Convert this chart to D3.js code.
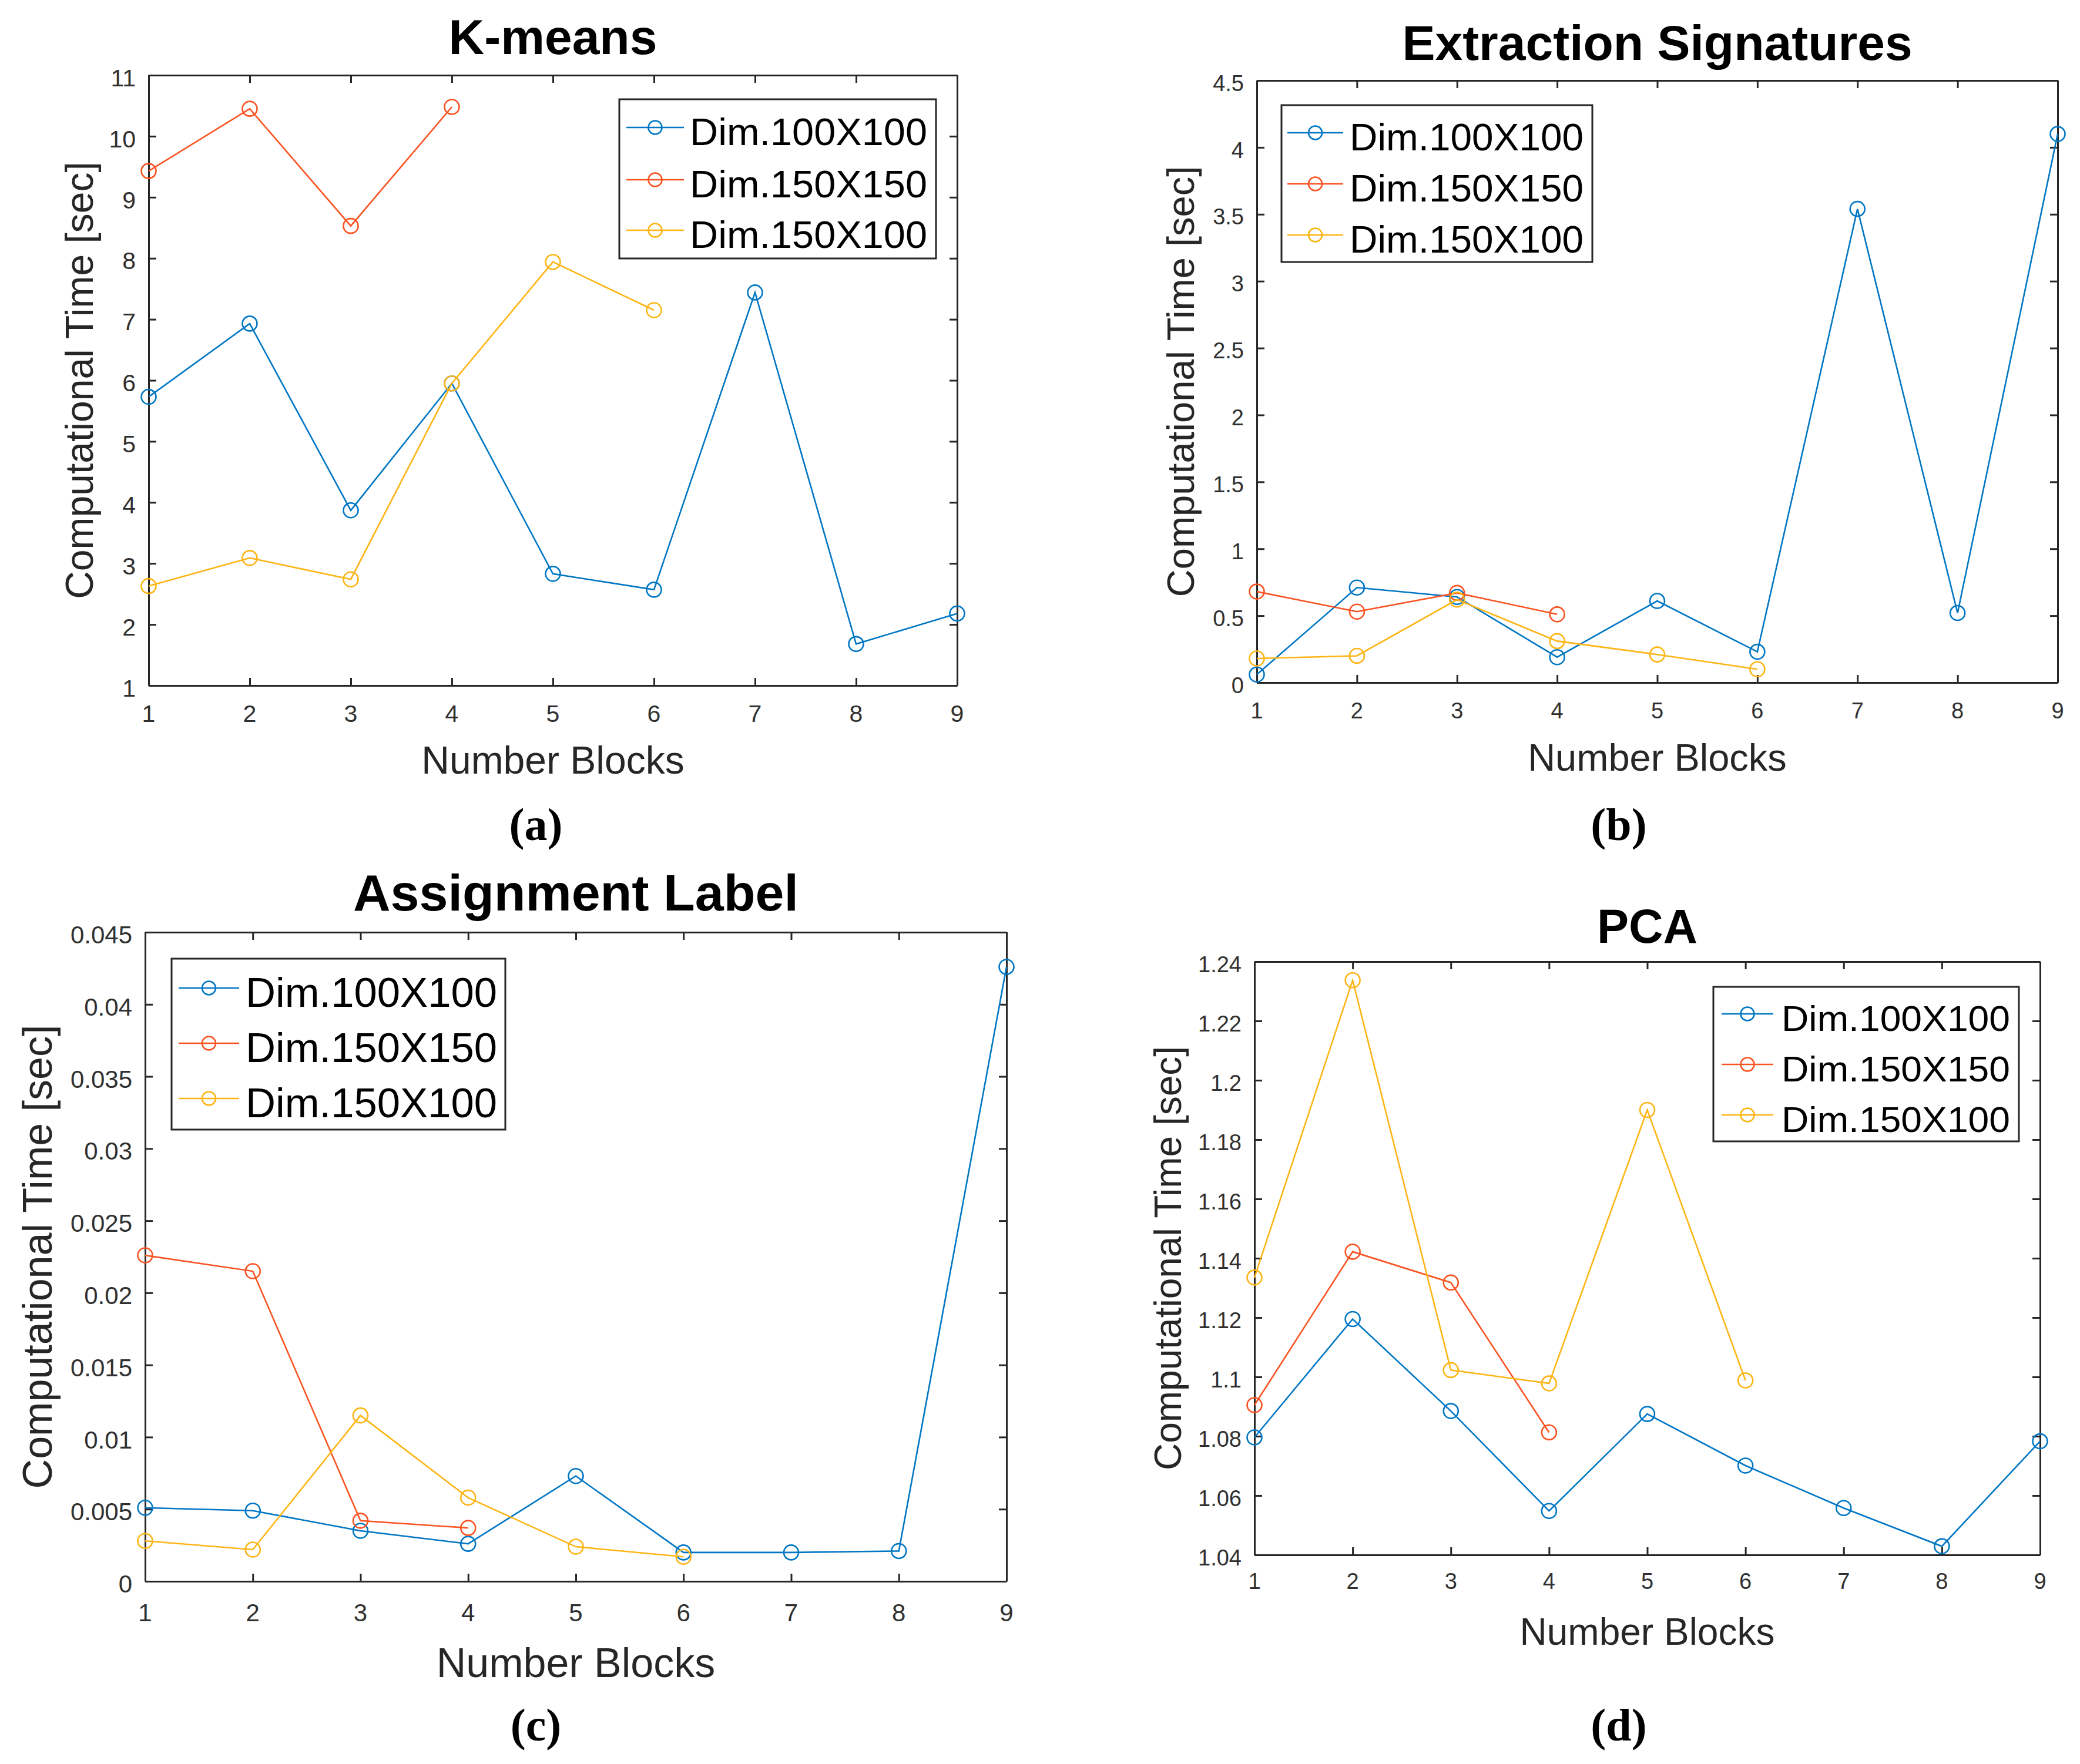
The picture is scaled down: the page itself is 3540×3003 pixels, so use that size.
<!DOCTYPE html>
<html>
<head>
<meta charset="utf-8">
<script src="https://cdn.jsdelivr.net/npm/d3@7"></script>
<style>
  body { margin: 0; background: #fff; }
  text { font-family: "Liberation Sans", Arial, Helvetica, sans-serif; }
</style>
</head>
<body>
<svg width="3540" height="3003"></svg>
<script>
// x axis: number of blocks
var blocks = [1, 2, 3, 4, 5, 6, 7, 8, 9];
var seriesNames = ["Dim.100X100", "Dim.150X150", "Dim.150X100"];
var colors = ["#0076C4", "#FA5322", "#FDB515"];

// (a) K-means
var kmeans100 = [5.73, 6.93, 3.87, 5.95, 2.83, 2.57, 7.44, 1.68, 2.18];
var kmeans150 = [9.43, 10.45, 8.53, 10.48];
var kmeans150x100 = [2.63, 3.09, 2.74, 5.95, 7.94, 7.15];
var kmeansTicks = [1, 2, 3, 4, 5, 6, 7, 8, 9, 10, 11];
var kmeansLabels = ["1", "2", "3", "4", "5", "6", "7", "8", "9", "10", "11"];

// (b) Extraction Signatures
var extr100 = [0.06, 0.71, 0.64, 0.19, 0.61, 0.23, 3.54, 0.52, 4.1];
var extr150 = [0.68, 0.53, 0.67, 0.51];
var extr150x100 = [0.18, 0.2, 0.62, 0.31, 0.21, 0.1];
var extrTicks = [0, 0.5, 1, 1.5, 2, 2.5, 3, 3.5, 4, 4.5];
var extrLabels = ["0", "0.5", "1", "1.5", "2", "2.5", "3", "3.5", "4", "4.5"];

// (c) Assignment Label
var assign100 = [0.0051, 0.0049, 0.0035, 0.0026, 0.0073, 0.0020, 0.0020, 0.0021, 0.0426];
var assign150 = [0.0226, 0.0215, 0.0042, 0.0037];
var assign150x100 = [0.0028, 0.0022, 0.0115, 0.0058, 0.0024, 0.0017];
var assignTicks = [0, 0.005, 0.01, 0.015, 0.02, 0.025, 0.03, 0.035, 0.04, 0.045];
var assignLabels = ["0", "0.005", "0.01", "0.015", "0.02", "0.025", "0.03", "0.035", "0.04", "0.045"];

// (d) PCA
var pca100 = [1.0796, 1.1195, 1.0885, 1.0548, 1.0875, 1.0701, 1.0558, 1.0429, 1.0783];
var pca150 = [1.0905, 1.1422, 1.1318, 1.0813];
var pca150x100 = [1.1335, 1.2337, 1.1023, 1.0978, 1.1900, 1.0988];
var pcaTicks = [1.04, 1.06, 1.08, 1.1, 1.12, 1.14, 1.16, 1.18, 1.2, 1.22, 1.24];
var pcaLabels = ["1.04", "1.06", "1.08", "1.1", "1.12", "1.14", "1.16", "1.18", "1.2", "1.22", "1.24"];

var svg = d3.select("svg");

// layout of each panel (pixels)
var panels = [
  { title: "K-means", tag: "(a)", series: [kmeans100, kmeans150, kmeans150x100],
    ticks: kmeansTicks, labels: kmeansLabels,
    box: [253, 1629, 128, 1167], titleY: 92, titleSize: 84, tickSize: 41, xTickDy: 62,
    xLabelY: 1317, labelSize: 66, yLabelX: 158, tagX: 912, tagY: 1430,
    legend: { x0: 1054, x1: 1593, y0: 169, y1: 440, rows: [217, 306, 392], line: [1066, 1164],
              textX: 1174, textLen: 404, size: 65 } },
  { title: "Extraction Signatures", tag: "(b)", series: [extr100, extr150, extr150x100],
    ticks: extrTicks, labels: extrLabels,
    box: [2139, 3502, 137, 1162], titleY: 102, titleSize: 84, tickSize: 38, xTickDy: 61,
    xLabelY: 1312, labelSize: 65, yLabelX: 2032, tagX: 2755, tagY: 1430,
    legend: { x0: 2181, x1: 2710, y0: 179, y1: 446, rows: [226, 313, 400], line: [2191, 2286],
              textX: 2297, textLen: 398, size: 64 } },
  { title: "Assignment Label", tag: "(c)", series: [assign100, assign150, assign150x100],
    ticks: assignTicks, labels: assignLabels,
    box: [247, 1713, 1587, 2692], titleY: 1550, titleSize: 88, tickSize: 42, xTickDy: 68,
    xLabelY: 2855, labelSize: 70, yLabelX: 88, tagX: 912, tagY: 2963,
    legend: { x0: 292, x1: 860, y0: 1632, y1: 1923, rows: [1682, 1776, 1870], line: [304, 407],
              textX: 418, textLen: 428, size: 70 } },
  { title: "PCA", tag: "(d)", series: [pca100, pca150, pca150x100],
    ticks: pcaTicks, labels: pcaLabels,
    box: [2135, 3472, 1637, 2647], titleY: 1605, titleSize: 81, tickSize: 38, xTickDy: 58,
    xLabelY: 2800, labelSize: 64, yLabelX: 2010, tagX: 2755, tagY: 2963,
    legend: { x0: 2916, x1: 3436, y0: 1680, y1: 1943, rows: [1726, 1812, 1898], line: [2930, 3018],
              textX: 3032, textLen: 389, size: 62 } }
];

var axisColor = "#262626";

panels.forEach(drawPanel);

function drawPanel(p) {
  var L = p.box[0], R = p.box[1], T = p.box[2], B = p.box[3];
  var g = svg.append("g");

  var x = d3.scaleLinear().domain([1, 9]).range([L, R]);
  var y = d3.scaleLinear().domain([p.ticks[0], p.ticks[p.ticks.length - 1]]).range([B, T]);

  // frame with inward ticks on all four sides (matlab "box on")
  var ax = [
    { a: d3.axisBottom(x).tickValues(blocks).tickSizeInner(-13), at: [0, B] },
    { a: d3.axisTop(x).tickValues(blocks).tickSizeInner(-13), at: [0, T] },
    { a: d3.axisLeft(y).tickValues(p.ticks).tickSizeInner(-13), at: [L, 0] },
    { a: d3.axisRight(y).tickValues(p.ticks).tickSizeInner(-13), at: [R, 0] }
  ];
  ax.forEach(function(d) {
    var s = g.append("g")
      .attr("transform", "translate(" + d.at[0] + "," + d.at[1] + ")")
      .call(d.a.tickSizeOuter(0).tickFormat(""));
    s.select(".domain").attr("stroke", axisColor).attr("stroke-width", 3);
    s.selectAll(".tick line").attr("stroke", axisColor).attr("stroke-width", 3);
  });

  // tick labels
  g.selectAll(".ylab").data(p.ticks).enter().append("text")
    .attr("x", L - 22)
    .attr("y", function(d) { return y(d) + 0.36 * p.tickSize + 4; })
    .attr("text-anchor", "end")
    .attr("font-size", p.tickSize)
    .attr("fill", "#303030")
    .text(function(d, i) { return p.labels[i]; });

  g.selectAll(".xlab").data(blocks).enter().append("text")
    .attr("x", function(d) { return x(d); })
    .attr("y", B + p.xTickDy)
    .attr("text-anchor", "middle")
    .attr("font-size", p.tickSize)
    .attr("fill", "#303030")
    .text(function(d) { return d; });

  // titles and axis labels
  g.append("text")
    .attr("x", (L + R) / 2).attr("y", p.titleY)
    .attr("text-anchor", "middle")
    .attr("font-size", p.titleSize).attr("font-weight", "bold")
    .attr("fill", "#000")
    .text(p.title);

  g.append("text")
    .attr("x", (L + R) / 2).attr("y", p.xLabelY)
    .attr("text-anchor", "middle")
    .attr("font-size", p.labelSize)
    .attr("fill", axisColor)
    .text("Number Blocks");

  g.append("text")
    .attr("transform", "translate(" + p.yLabelX + "," + (T + B) / 2 + ") rotate(-90)")
    .attr("text-anchor", "middle")
    .attr("font-size", p.labelSize)
    .attr("fill", axisColor)
    .text("Computational Time [sec]");

  // subfigure tag, serif
  g.append("text")
    .attr("x", p.tagX).attr("y", p.tagY)
    .attr("text-anchor", "middle")
    .attr("font-size", 78)
    .attr("font-weight", "bold")
    .style("font-family", "'Liberation Serif', 'Times New Roman', serif")
    .attr("fill", "#000")
    .text(p.tag);

  // series lines + circle markers
  var line = d3.line()
    .x(function(d, i) { return x(blocks[i]); })
    .y(function(d) { return y(d); });

  p.series.forEach(function(vals, k) {
    g.append("path")
      .datum(vals)
      .attr("d", line)
      .attr("fill", "none")
      .attr("stroke", colors[k])
      .attr("stroke-width", 2.6);

    g.selectAll(".m" + k).data(vals).enter().append("circle")
      .attr("cx", function(d, i) { return x(blocks[i]); })
      .attr("cy", function(d) { return y(d); })
      .attr("r", 12.5)
      .attr("fill", "none")
      .attr("stroke", colors[k])
      .attr("stroke-width", 2.6);
  });

  // legend
  var lg = p.legend;
  g.append("rect")
    .attr("x", lg.x0).attr("y", lg.y0)
    .attr("width", lg.x1 - lg.x0).attr("height", lg.y1 - lg.y0)
    .attr("fill", "#fff")
    .attr("stroke", axisColor).attr("stroke-width", 3);

  seriesNames.forEach(function(name, k) {
    var ry = lg.rows[k];
    g.append("line")
      .attr("x1", lg.line[0]).attr("x2", lg.line[1])
      .attr("y1", ry).attr("y2", ry)
      .attr("stroke", colors[k]).attr("stroke-width", 2.6);
    g.append("circle")
      .attr("cx", (lg.line[0] + lg.line[1]) / 2).attr("cy", ry)
      .attr("r", 11.5)
      .attr("fill", "none")
      .attr("stroke", colors[k]).attr("stroke-width", 2.6);
    g.append("text")
      .attr("x", lg.textX).attr("y", ry + 0.36 * lg.size + 7)
      .attr("font-size", lg.size)
      .attr("textLength", lg.textLen)
      .attr("lengthAdjust", "spacingAndGlyphs")
      .attr("fill", "#000")
      .text(name);
  });
}
</script>
</body>
</html>
